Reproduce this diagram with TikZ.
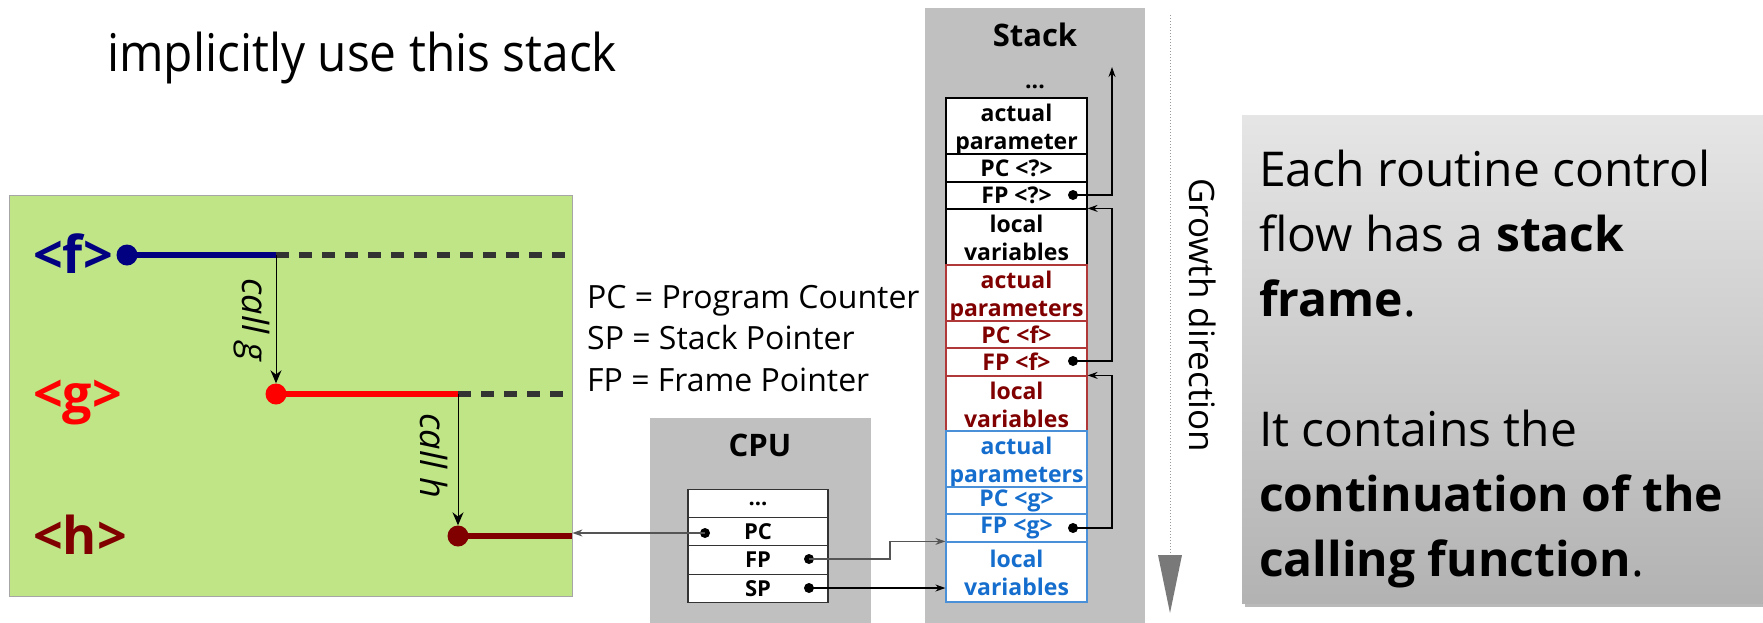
\documentclass[tikz,border=0pt]{standalone}
\usepackage{fontspec}
\setmainfont{Open Sans}
\newfontfamily\condfont[FakeStretch=0.92]{Open Sans}
\usetikzlibrary{arrows.meta}
\definecolor{greenbg}{RGB}{192,229,135}
\definecolor{boxgray}{RGB}{192,192,192}
\definecolor{fblue}{RGB}{0,0,128}
\definecolor{gred}{RGB}{255,0,0}
\definecolor{hred}{RGB}{128,0,0}
\definecolor{redrow}{RGB}{176,56,56}
\definecolor{bluetext}{RGB}{21,110,205}
\definecolor{blueline}{RGB}{74,144,217}
\definecolor{dashgray}{RGB}{51,51,51}
\definecolor{ptrgray}{RGB}{85,85,85}
\newcommand\cellrow[6]{%
  \node[#1, minimum height=#4pt] (#2) at (1016.5,#3) {};
  \node[#1, draw=none, fill=none, yshift=#6] at (#2.center) {#5};}
\begin{document}
\begin{tikzpicture}[x=1pt,y=-1pt,
  cell/.style={draw, fill=white, minimum width=141pt, inner sep=0pt,
    font=\bfseries\fontsize{23}{28}\selectfont, align=center, line width=1.2pt},
  blk/.style={cell, draw=black, text=black},
  redc/.style={cell, draw=redrow, text=hred},
  bluec/.style={cell, draw=blueline, text=bluetext},
  reg/.style={draw=black!80, fill=white, minimum width=140pt, minimum height=28.5pt,
    inner sep=0pt, font=\bfseries\fontsize{22}{22}\selectfont, line width=1.2pt},
  dot/.style={circle, fill=black, inner sep=0pt, minimum size=10pt},
  bigdot/.style={circle, inner sep=0pt, minimum size=21pt},
  ptr/.style={-{Stealth[length=10pt,width=7pt]}, line width=1.3pt},
  callarrow/.style={-{Stealth[length=13pt,width=11pt]}, line width=1pt},
  flow/.style={line width=6.5pt},
  dashflow/.style={dashgray, line width=6.5pt, dash pattern=on 13pt off 10pt},
  graybox/.style={fill=boxgray, draw=none, inner sep=0pt, anchor=north west},
  calllabel/.style={rotate=-90, font=\itshape\fontsize{36}{36}\selectfont, inner sep=0pt},
  legend/.style={anchor=base west, inner sep=0pt, font=\fontsize{32}{32}\selectfont},
  fname/.style={anchor=base west, inner sep=0pt, font=\bfseries\fontsize{52}{52}\selectfont},
]
\useasboundingbox (0,0) rectangle (1763,622);

% title text
\node[anchor=base west, inner sep=0pt, font=\condfont\fontsize{52}{52}\selectfont] (title) at (107,71) {implicitly use this stack};

% program box
\node[draw=gray!70, fill=greenbg, minimum width=563pt, minimum height=401pt, inner sep=0pt, anchor=north west] (prog) at (9,195) {};
\node[fname, text=fblue] (flab) at (33,273) {<f>};
\node[fname, text=gred] (glab) at (33,412) {<g>};
\node[fname, text=hred] (hlab) at (33,554) {<h>};

\node[bigdot, fill=fblue] (fdot) at (127,255) {};
\coordinate (fcall) at (276,255);
\node[bigdot, fill=gred] (gdot) at (276,394) {};
\coordinate (gcall) at (458,394);
\node[bigdot, fill=hred] (hdot) at (458,536) {};

\draw[flow, fblue] (fdot.center) -- (fcall);
\draw[dashflow] (fcall) -- (fcall -| prog.east);
\draw[flow, gred] (gdot.center) -- (gcall);
\draw[dashflow] (gcall) -- (gcall -| prog.east);
\draw[flow, hred] (hdot.center) -- (hdot.center -| prog.east);

\draw[callarrow] (fcall) -- (gdot.north);
\draw[callarrow] (gcall) -- (hdot.north);
\node[calllabel] (callg) at (252,320) {call g};
\node[calllabel] (callh) at (434,456) {call h};

% legend
\node[legend] (lpc) at (587,308) {PC = Program Counter};
\node[legend] (lsp) at (587,349) {SP = Stack Pointer};
\node[legend] (lfp) at (587,391) {FP = Frame Pointer};

% CPU
\node[graybox, minimum width=221pt, minimum height=210pt] (cpu) at (650,418) {};
\node[font=\bfseries\fontsize{31}{31}\selectfont, inner sep=0pt] (cputitle) at (760,445) {CPU};
\node[reg] (rdots) at (758,503.5) {...};
\node[reg] (rpc) at (758,532) {PC};
\node[reg] (rfp) at (758,560) {FP};
\node[reg] (rsp) at (758,588.5) {SP};
\node[dot] (pcdot) at (705,533) {};
\node[dot] (fpdot) at (809,559) {};
\node[dot] (spdot) at (809,588) {};

% Stack
\node[graybox, minimum width=220pt, minimum height=620pt] (stack) at (925,8) {};
\node[font=\bfseries\fontsize{31}{31}\selectfont, inner sep=0pt] (stacktitle) at (1035,35) {Stack};
\node[font=\bfseries\fontsize{23}{23}\selectfont, inner sep=0pt] (sdots) at (1035,87) {...};

\cellrow{blk}{r1}{126}{56}{actual\\parameter}{-4pt}
\cellrow{blk}{r2}{168}{28}{PC <?>}{0pt}
\cellrow{blk}{r3}{195.5}{27}{FP <?>}{0pt}
\cellrow{blk}{r4}{237}{56}{local\\variables}{-1pt}
\cellrow{redc}{r5}{293}{56}{actual\\parameters}{-4pt}
\cellrow{redc}{r6}{334.5}{27}{PC <f>}{0pt}
\cellrow{redc}{r7}{362}{28}{FP <f>}{0pt}
\cellrow{redc}{r8}{403.5}{55}{local\\variables}{-1pt}
\cellrow{bluec}{r9}{459}{56}{actual\\parameters}{-4pt}
\cellrow{bluec}{r10}{500.5}{27}{PC <g>}{0pt}
\cellrow{bluec}{r11}{528}{28}{FP <g>}{0pt}
\cellrow{bluec}{r12}{572}{60}{local\\variables}{-1pt}

\node[dot] (dq) at (1073,195) {};
\node[dot] (df) at (1073,361) {};
\node[dot] (dg) at (1073,528) {};
\coordinate (uptop) at (1112,67);

\draw[ptr] (dq.center) -| (uptop);
\draw[ptr] (df.center) -- ++(39,0) |- (r4.north east);
\draw[ptr] (dg.center) -- ++(39,0) |- (r8.north east);

% CPU pointers
\draw[ptr, ptrgray] (pcdot.center) -- (pcdot.center -| prog.east);
\draw[ptr, ptrgray] (fpdot.center) -- ++(81,0) |- (r12.north west);
\draw[ptr] (spdot.center) -- (spdot.center -| r12.west);

% growth direction
\coordinate (gtop) at (1170,15);
\coordinate (gbot) at (1170,613);
\draw[gray!80, line width=1pt, dotted] (gtop) -- (1170,556);
\fill[gray!95!black] (1158,555) -- (1182,555) -- (gbot) -- cycle;
\node[rotate=-90, font=\fontsize{35}{35}\selectfont, inner sep=0pt] (growth) at (1203,315) {Growth direction};

% note box
\fill[gray!55] (1245,119) rectangle (1763,607);
\node[top color=black!10, bottom color=black!30, draw=none, minimum width=521pt, minimum height=488pt, inner sep=0pt, anchor=north west] (note) at (1242,115) {};
\node[anchor=north west, inner sep=0pt, align=left, font=\fontsize{48}{65}\selectfont] (notetext) at (1259,150)
  {Each routine control\\flow has a \textbf{stack}\\\textbf{frame}.\\[65pt]It contains the\\\textbf{continuation of the}\\\textbf{calling function}.};
\end{tikzpicture}
\end{document}
